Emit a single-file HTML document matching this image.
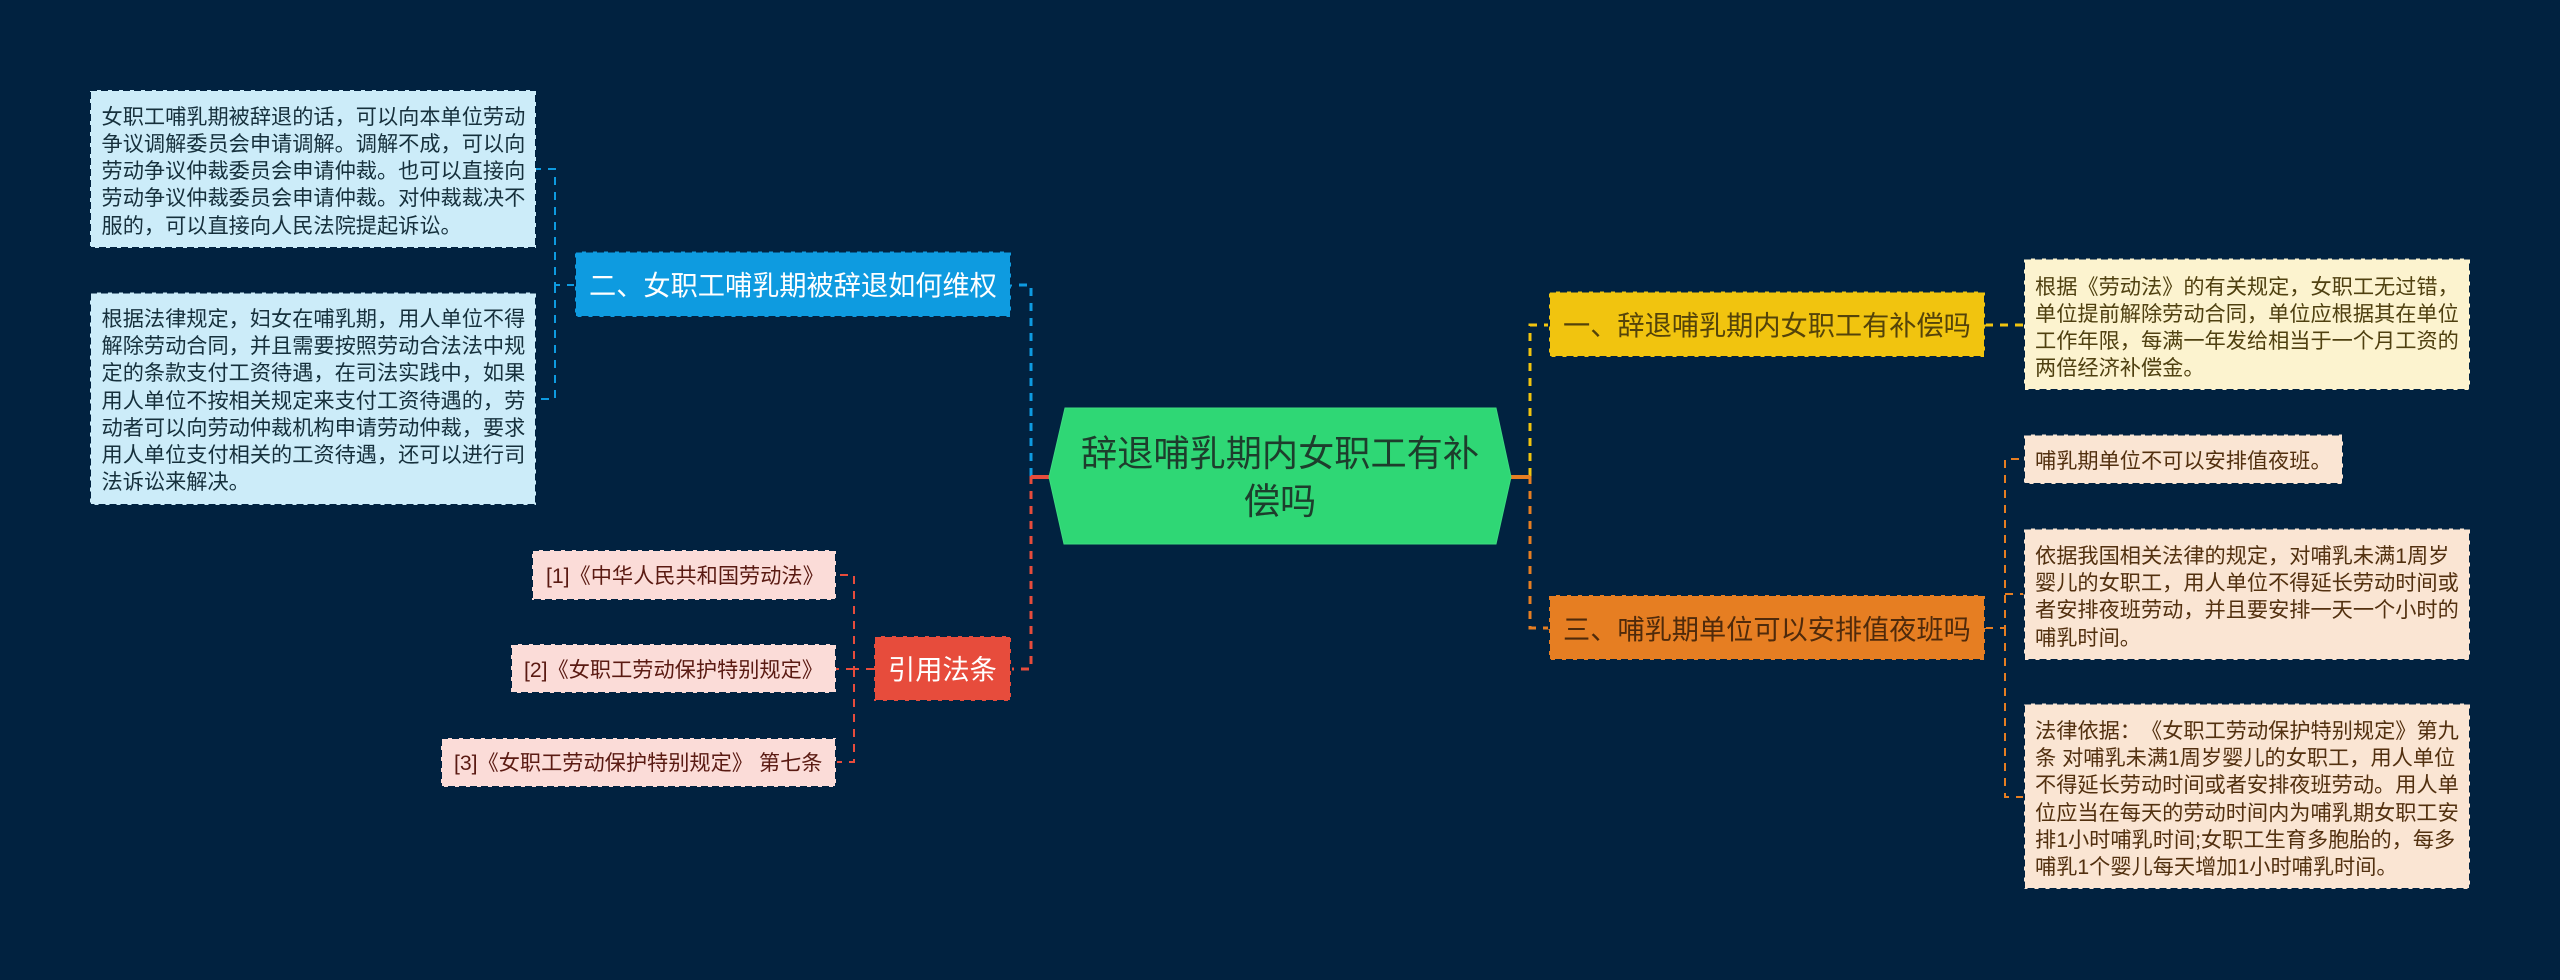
<!DOCTYPE html>
<html><head><meta charset="utf-8"><style>
html,body{margin:0;padding:0;background:#012240;width:2560px;height:980px;overflow:hidden}
svg{display:block}
text{font-family:"Liberation Sans","WenQuanYi Zen Hei","Noto Sans CJK SC",sans-serif;white-space:pre}
.s{font-size:21.2px}.m{font-size:27.2px}.l{font-size:36.2px}
</style></head><body>
<svg width="2560" height="980" viewBox="0 0 2560 980" xmlns="http://www.w3.org/2000/svg">
<rect width="2560" height="980" fill="#012240"/>
<g fill="none" stroke-dasharray="8 7">
<path d="M1031 476V285H1011" stroke="#0e9be0" stroke-width="3"/>
<path d="M1031 476V669H1011" stroke="#e74c3c" stroke-width="3"/>
<path d="M1530 476V325H1549" stroke="#f1c40f" stroke-width="3"/>
<path d="M1530 476V628H1549" stroke="#e67e22" stroke-width="3"/>
<path d="M575 285H555V169H536M555 285V399H536" stroke="#0e9be0" stroke-width="2"/>
<path d="M874 669H854V575H836M854 669V762H836M854 669H836" stroke="#e74c3c" stroke-width="2"/>
<path d="M1985 325H2024" stroke="#f1c40f" stroke-width="3"/>
<path d="M1985 628H2005V459H2024M2005 628V797H2024M2005 594H2024" stroke="#e67e22" stroke-width="2"/>
</g>
<path d="M1031 477H1049" stroke="#e74c3c" stroke-width="4"/>
<path d="M1511 477H1530" stroke="#e67e22" stroke-width="4"/>
<polygon points="1049,477 1065,408 1496,408 1511,477 1496,544 1064,544" fill="#2fd775" stroke="#3ddc80" stroke-width="1"/>
<g stroke="#012240" stroke-width="2" stroke-dasharray="7 4">
<rect x="575" y="251.5" width="436" height="65.5" fill="#0e9be0"/>
<rect x="874" y="636" width="137" height="65" fill="#e74c3c"/>
<rect x="1549" y="291.5" width="436" height="65.5" fill="#f1c40f"/>
<rect x="1549" y="595" width="436" height="65" fill="#e67e22"/>
<rect x="90" y="90" width="446" height="158" fill="#ccecf9"/>
<rect x="90" y="292.5" width="446" height="212.5" fill="#ccecf9"/>
<rect x="532" y="550" width="304" height="50" fill="#fbdcd8"/>
<rect x="511" y="644" width="325" height="49" fill="#fbdcd8"/>
<rect x="441" y="738" width="395" height="49" fill="#fbdcd8"/>
<rect x="2024" y="258.5" width="446" height="131.5" fill="#fcf3cf"/>
<rect x="2024" y="434.5" width="319" height="49.5" fill="#fae5d3"/>
<rect x="2024" y="528.5" width="446" height="131.5" fill="#fae5d3"/>
<rect x="2024" y="703.5" width="446" height="185.5" fill="#fae5d3"/>
</g>
<g fill="#1d3d2c" text-anchor="middle">
<text class="l" x="1280" y="466">辞退哺乳期内女职工有补</text>
<text class="l" x="1280" y="514">偿吗</text>
</g>
<g fill="#ffffff">
<text class="m" x="589" y="295">二、女职工哺乳期被辞退如何维权</text>
<text class="m" x="888" y="679">引用法条</text>
</g>
<text class="m" fill="#54430a" x="1563" y="335">一、辞退哺乳期内女职工有补偿吗</text>
<text class="m" fill="#4f2a0b" x="1563" y="639">三、哺乳期单位可以安排值夜班吗</text>
<g fill="#16303c">
<text class="s" x="101.5" y="124">女职工哺乳期被辞退的话，可以向本单位劳动</text>
<text class="s" x="101.5" y="151">争议调解委员会申请调解。调解不成，可以向</text>
<text class="s" x="101.5" y="178">劳动争议仲裁委员会申请仲裁。也可以直接向</text>
<text class="s" x="101.5" y="205">劳动争议仲裁委员会申请仲裁。对仲裁裁决不</text>
<text class="s" x="101.5" y="233">服的，可以直接向人民法院提起诉讼。</text>
<text class="s" x="101.5" y="326">根据法律规定，妇女在哺乳期，用人单位不得</text>
<text class="s" x="101.5" y="353">解除劳动合同，并且需要按照劳动合法法中规</text>
<text class="s" x="101.5" y="380">定的条款支付工资待遇，在司法实践中，如果</text>
<text class="s" x="101.5" y="408">用人单位不按相关规定来支付工资待遇的，劳</text>
<text class="s" x="101.5" y="435">动者可以向劳动仲裁机构申请劳动仲裁，要求</text>
<text class="s" x="101.5" y="462">用人单位支付相关的工资待遇，还可以进行司</text>
<text class="s" x="101.5" y="489">法诉讼来解决。</text>
</g>
<g fill="#5a1a12">
<text class="s" x="546" y="583">[1]《中华人民共和国劳动法》</text>
<text class="s" x="524" y="677">[2]《女职工劳动保护特别规定》</text>
<text class="s" x="454" y="770">[3]《女职工劳动保护特别规定》 第七条</text>
</g>
<g fill="#4f4010">
<text class="s" x="2035" y="294">根据《劳动法》的有关规定，女职工无过错，</text>
<text class="s" x="2035" y="321">单位提前解除劳动合同，单位应根据其在单位</text>
<text class="s" x="2035" y="348">工作年限，每满一年发给相当于一个月工资的</text>
<text class="s" x="2035" y="375">两倍经济补偿金。</text>
</g>
<g fill="#52300f">
<text class="s" x="2035" y="468">哺乳期单位不可以安排值夜班。</text>
<text class="s" x="2035" y="563">依据我国相关法律的规定，对哺乳未满1周岁</text>
<text class="s" x="2035" y="590">婴儿的女职工，用人单位不得延长劳动时间或</text>
<text class="s" x="2035" y="617">者安排夜班劳动，并且要安排一天一个小时的</text>
<text class="s" x="2035" y="645">哺乳时间。</text>
<text class="s" x="2035" y="738">法律依据：</text>
<text class="s" x="2141" y="738">《女职工劳动保护特别规定》第九</text>
<text class="s" x="2035" y="765">条 对哺乳未满1周岁婴儿的女职工，用人单位</text>
<text class="s" x="2035" y="792">不得延长劳动时间或者安排夜班劳动。用人单</text>
<text class="s" x="2035" y="820">位应当在每天的劳动时间内为哺乳期女职工安</text>
<text class="s" x="2035" y="847">排1小时哺乳时间;女职工生育多胞胎的，每多</text>
<text class="s" x="2035" y="874">哺乳1个婴儿每天增加1小时哺乳时间。</text>
</g>
</svg>
</body></html>
